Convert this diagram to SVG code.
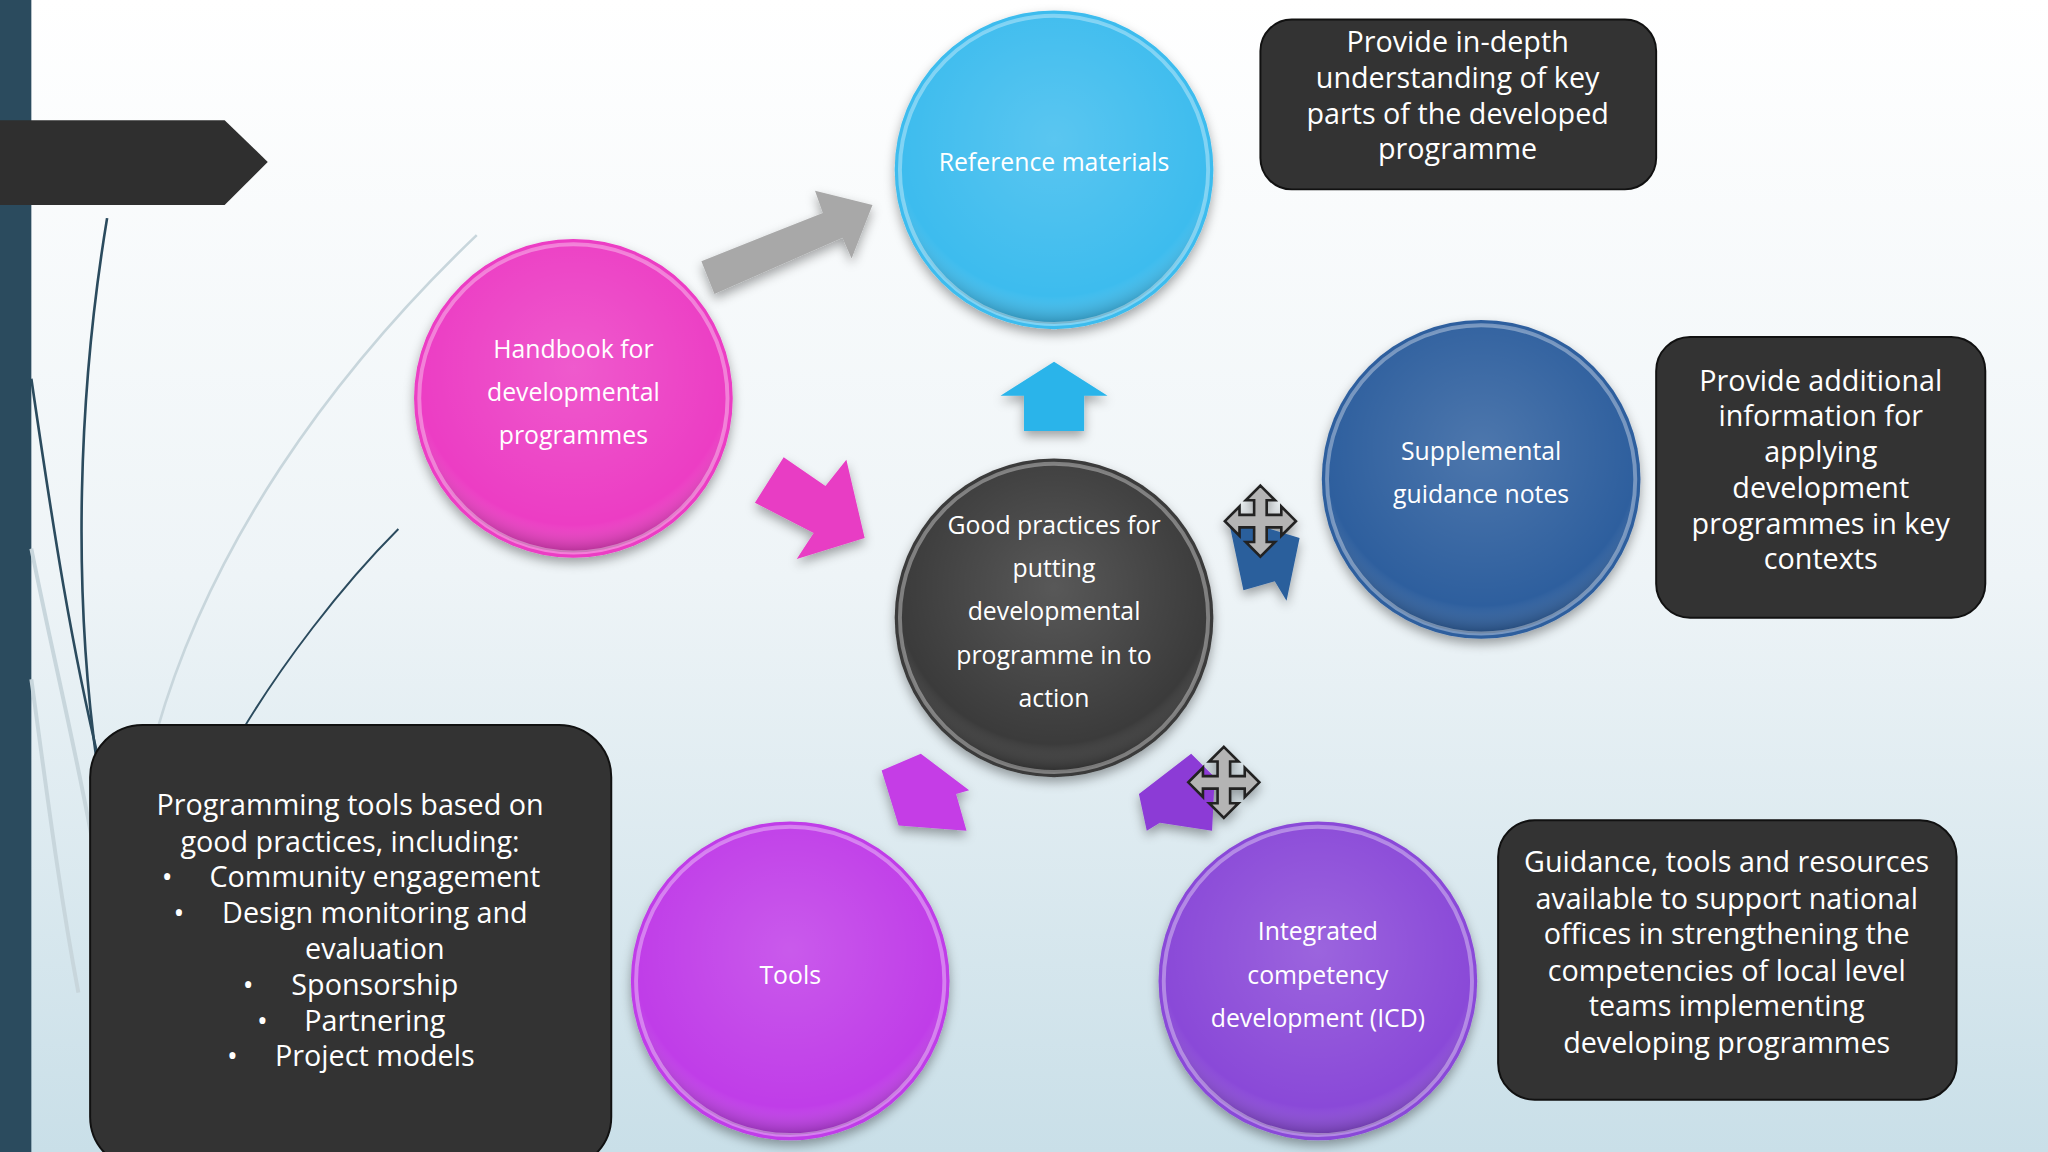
<svg xmlns="http://www.w3.org/2000/svg" width="2048" height="1152" viewBox="0 0 2048 1152">
<defs>
<linearGradient id="bg" x1="0" y1="0" x2="0" y2="1"><stop offset="0" stop-color="#ffffff"/><stop offset="0.5" stop-color="#eef4f7"/><stop offset="1" stop-color="#c9dfe8"/></linearGradient>
<radialGradient id="sh" cx="0.5" cy="0.4" r="0.6"><stop offset="0" stop-color="#fff" stop-opacity="0.15"/><stop offset="0.85" stop-color="#fff" stop-opacity="0"/><stop offset="1" stop-color="#000" stop-opacity="0.25"/></radialGradient>
<filter id="ds" x="-20%" y="-20%" width="140%" height="140%"><feDropShadow dx="0" dy="4" stdDeviation="4" flood-opacity="0.35"/></filter>
<g id="move"><path d="M0,-34 L14,-20 L6,-20 L6,-6 L20,-6 L20,-14 L34,0 L20,14 L20,6 L6,6 L6,20 L14,20 L0,34 L-14,20 L-6,20 L-6,6 L-20,6 L-20,14 L-34,0 L-20,-14 L-20,-6 L-6,-6 L-6,-20 L-14,-20 Z" fill="#b4b4b4" stroke="#222" stroke-width="2.5"/></g>
</defs>
<style>
.ct{font-family:"Open Sans","Noto Sans",sans-serif;font-size:19px;fill:#fff;text-anchor:middle}
.bt{font-family:"Open Sans","Noto Sans",sans-serif;font-size:22px;fill:#fff;text-anchor:middle}
.box{fill:#333333;stroke:#111;stroke-width:1.5}
.ring{fill:url(#sh);stroke:#fff;stroke-opacity:0.35;stroke-width:3}
</style>
<rect width="2048" height="1152" fill="url(#bg)"/>
<g transform="scale(1.30612)">
<g id="decor" fill="none">
<rect x="0" y="0" width="24" height="882" fill="#2b4b5e"/>
<path d="M0,92 L172,92 L205,124 L172,157 L0,157 Z" fill="#2f2f2f"/>
<path d="M82,167 C60,300 55,450 75,590" stroke="#2b4b5e" stroke-width="2"/>
<path d="M24,290 C40,400 55,500 80,600" stroke="#2b4b5e" stroke-width="2"/>
<path d="M365,180 C250,290 160,420 120,560" stroke="#c8d6dc" stroke-width="2"/>
<path d="M305,405 C260,450 215,510 185,560" stroke="#2b4b5e" stroke-width="1.5"/>
<path d="M24,420 C40,500 55,560 70,640" stroke="#c8d6dc" stroke-width="3"/>
<path d="M24,520 C35,600 45,680 60,760" stroke="#c8d6dc" stroke-width="3"/>
</g>
<g id="connectors" filter="url(#ds)">
<path d="M537,200 L630,163 L624,146 L668,157 L652,198 L645,182 L547,225 Z" fill="#a8a8a8"/>
<path d="M578,385 L600,350 L632,372 L648,352 L662,412 L610,428 L623,408 Z" fill="#e83cc4"/>
<path d="M766,303 L807,277 L848,303 L830,303 L830,330 L784,330 L784,303 Z" fill="#2ab4ea"/>
<path d="M940,395 L995,412 L985,460 L976,445 L952,452 Z" fill="#2a5e9c"/>
<path d="M675,590 L705,577 L742,605 L732,608 L740,636 L688,632 Z" fill="#c53ce6"/>
<path d="M872,608 L912,577 L930,595 L928,636 L888,630 L878,636 Z" fill="#8c3ad6"/>
<use href="#move" transform="translate(965,399) scale(0.8)"/>
<use href="#move" transform="translate(937,599) scale(0.8)"/>
</g>
<g id="n-ref"><circle cx="807" cy="130" r="122" fill="#3cbcee" filter="url(#ds)"/><circle class="ring" cx="807" cy="130" r="118"/><text class="ct" x="807" y="131">Reference materials</text></g>
<g id="n-hand"><circle cx="439" cy="305" r="122" fill="#ec3cc4" filter="url(#ds)"/><circle class="ring" cx="439" cy="305" r="118"/><text class="ct" x="439" y="274">Handbook for</text><text class="ct" x="439" y="307">developmental</text><text class="ct" x="439" y="340">programmes</text></g>
<g id="n-good"><circle cx="807" cy="473" r="122" fill="#3a3a3a" filter="url(#ds)"/><circle class="ring" cx="807" cy="473" r="118"/><text class="ct" x="807" y="409">Good practices for</text><text class="ct" x="807" y="442">putting</text><text class="ct" x="807" y="475">developmental</text><text class="ct" x="807" y="508">programme in to</text><text class="ct" x="807" y="541">action</text></g>
<g id="n-supp"><circle cx="1134" cy="367" r="122" fill="#2f5f9e" filter="url(#ds)"/><circle class="ring" cx="1134" cy="367" r="118"/><text class="ct" x="1134" y="352">Supplemental</text><text class="ct" x="1134" y="385">guidance notes</text></g>
<g id="n-tools"><circle cx="605" cy="751" r="122" fill="#c03ce8" filter="url(#ds)"/><circle class="ring" cx="605" cy="751" r="118"/><text class="ct" x="605" y="753">Tools</text></g>
<g id="n-icd"><circle cx="1009" cy="751" r="122" fill="#8a4ad8" filter="url(#ds)"/><circle class="ring" cx="1009" cy="751" r="118"/><text class="ct" x="1009" y="720">Integrated</text><text class="ct" x="1009" y="753">competency</text><text class="ct" x="1009" y="786">development (ICD)</text></g>
<g id="b-top"><rect class="box" x="965" y="15" width="303" height="130" rx="24"/><text class="bt" x="1116" y="40">Provide in-depth</text><text class="bt" x="1116" y="67">understanding of key</text><text class="bt" x="1116" y="95">parts of the developed</text><text class="bt" x="1116" y="122">programme</text></g>
<g id="b-right"><rect class="box" x="1268" y="258" width="252" height="215" rx="26"/><text class="bt" x="1394" y="299">Provide additional</text><text class="bt" x="1394" y="326">information for</text><text class="bt" x="1394" y="354">applying</text><text class="bt" x="1394" y="381">development</text><text class="bt" x="1394" y="409">programmes in key</text><text class="bt" x="1394" y="436">contexts</text></g>
<g id="b-br"><rect class="box" x="1147" y="628" width="351" height="214" rx="28"/><text class="bt" x="1322" y="668">Guidance, tools and resources</text><text class="bt" x="1322" y="696">available to support national</text><text class="bt" x="1322" y="723">offices in strengthening the</text><text class="bt" x="1322" y="751">competencies of local level</text><text class="bt" x="1322" y="778">teams implementing</text><text class="bt" x="1322" y="806">developing programmes</text></g>
<g id="b-bl"><rect class="box" x="69" y="555" width="399" height="340" rx="40"/><text class="bt" x="268" y="624">Programming tools based on</text><text class="bt" x="268" y="652">good practices, including:</text><text class="bt" x="287" y="679">Community engagement</text><text class="bt" x="287" y="707">Design monitoring and</text><text class="bt" x="287" y="734">evaluation</text><text class="bt" x="287" y="762">Sponsorship</text><text class="bt" x="287" y="789">Partnering</text><text class="bt" x="287" y="816">Project models</text>
<text class="bt" x="128" y="679">•</text><text class="bt" x="137" y="707">•</text><text class="bt" x="190" y="762">•</text><text class="bt" x="201" y="789">•</text><text class="bt" x="178" y="816">•</text></g>
</g>
</svg>
